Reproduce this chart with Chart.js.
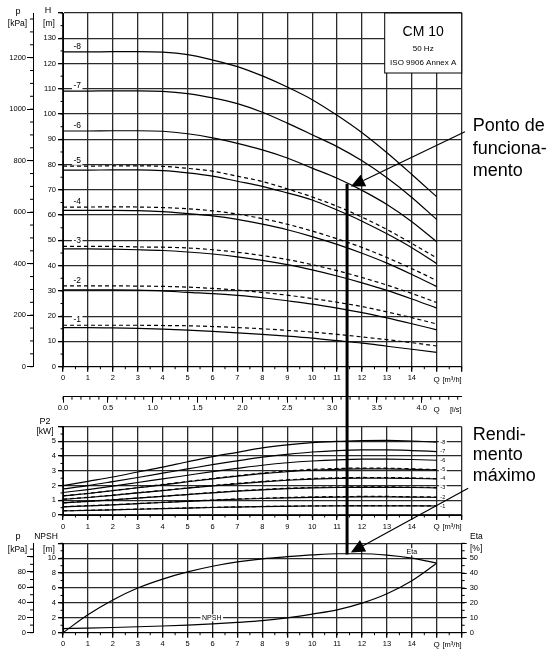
<!DOCTYPE html>
<html>
<head>
<meta charset="utf-8">
<script src="https://cdn.jsdelivr.net/npm/chart.js@4.4.0/dist/chart.umd.min.js"></script>
<style>
html, body { margin: 0; padding: 0; background: #fff; }
#wrap { position: relative; width: 552px; height: 652px; }
#wrap canvas { position: absolute; left: 0; top: 0; }
</style>
</head>
<body>
<div id="wrap">
  <canvas id="head" width="552" height="652"></canvas>
  <canvas id="power" width="552" height="652"></canvas>
  <canvas id="npsh" width="552" height="652"></canvas>
</div>
<script>
// flow Q [m3/h]
const flow = [0, 1, 2, 3, 4, 5, 6, 7, 8, 9, 10, 11, 12, 13, 14, 15];

// head H [m] per number of stages (d = dashed curve)
const head8  = [124.6, 124.6, 124.7, 124.7, 124.5, 123.5, 121.4, 118.8, 115.1, 110.7, 105.7, 99.5, 92.6, 84.7, 76.1, 67.2];
const head7  = [109.1, 109.1, 109.2, 109.2, 109.0, 108.1, 106.4, 104.1, 100.7, 96.4, 91.8, 87.1, 81.5, 74.8, 67.0, 58.2];
const head6  = [93.3, 93.3, 93.4, 93.4, 93.2, 92.2, 90.6, 88.4, 85.8, 82.6, 78.6, 74.6, 69.8, 64.2, 57.4, 49.4];
const head5d = [79.4, 79.4, 79.5, 79.5, 79.3, 78.5, 77.4, 75.4, 73.3, 70.4, 67.2, 63.5, 59.2, 54.3, 48.8, 43.0];
const head5  = [77.8, 77.8, 77.9, 77.9, 77.6, 76.7, 75.4, 73.4, 71.4, 68.8, 66.0, 62.0, 57.6, 52.6, 47.1, 40.8];
const head4d = [63.2, 63.2, 63.3, 63.2, 63.0, 62.5, 61.7, 60.4, 58.6, 56.4, 53.7, 50.6, 47.2, 43.2, 38.8, 34.1];
const head4  = [61.9, 61.9, 61.9, 61.8, 61.4, 60.6, 59.7, 58.3, 56.4, 54.2, 51.5, 48.4, 44.9, 41.0, 36.5, 31.7];
const head3d = [47.6, 47.6, 47.6, 47.4, 47.3, 47.0, 46.3, 45.3, 44.0, 42.4, 40.4, 38.0, 35.3, 32.3, 29.0, 25.4];
const head3  = [46.6, 46.6, 46.5, 46.3, 46.0, 45.4, 44.6, 43.5, 42.1, 40.4, 38.3, 35.9, 33.2, 30.2, 26.8, 23.2];
const head2d = [32.0, 32.0, 32.0, 31.9, 31.8, 31.5, 31.0, 30.3, 29.4, 28.3, 27.0, 25.5, 23.8, 21.7, 19.4, 16.9];
const head2  = [30.4, 30.4, 30.4, 30.3, 30.0, 29.4, 28.9, 28.2, 27.3, 26.1, 24.8, 23.2, 21.4, 19.3, 17.0, 14.6];
const head1d = [16.4, 16.4, 16.4, 16.4, 16.3, 16.2, 15.9, 15.5, 15.0, 14.4, 13.7, 12.8, 11.8, 10.7, 9.5, 8.2];
const head1  = [15.5, 15.5, 15.4, 15.2, 14.9, 14.5, 14.0, 13.4, 12.8, 12.1, 11.3, 10.3, 9.3, 8.1, 6.9, 5.7];

// shaft power P2 [kW]
const power8  = [2.00, 2.29, 2.58, 2.92, 3.25, 3.62, 3.97, 4.26, 4.56, 4.77, 4.92, 5.00, 5.06, 5.07, 5.03, 4.95];
const power7  = [1.77, 2.00, 2.27, 2.55, 2.84, 3.13, 3.42, 3.68, 3.93, 4.12, 4.28, 4.38, 4.42, 4.42, 4.38, 4.31];
const power6  = [1.53, 1.73, 1.96, 2.21, 2.45, 2.70, 2.95, 3.17, 3.38, 3.55, 3.67, 3.75, 3.79, 3.79, 3.77, 3.72];
const power5d = [1.30, 1.47, 1.66, 1.86, 2.07, 2.28, 2.48, 2.67, 2.85, 2.99, 3.10, 3.16, 3.19, 3.18, 3.14, 3.08];
const power5  = [1.29, 1.46, 1.65, 1.85, 2.05, 2.26, 2.46, 2.64, 2.81, 2.94, 3.04, 3.10, 3.13, 3.13, 3.10, 3.06];
const power4d = [1.07, 1.20, 1.35, 1.51, 1.67, 1.84, 2.00, 2.15, 2.28, 2.39, 2.48, 2.53, 2.55, 2.54, 2.52, 2.47];
const power4  = [1.06, 1.19, 1.34, 1.50, 1.66, 1.82, 1.98, 2.12, 2.25, 2.36, 2.44, 2.49, 2.51, 2.51, 2.49, 2.45];
const power3d = [0.83, 0.93, 1.04, 1.16, 1.28, 1.40, 1.53, 1.64, 1.74, 1.82, 1.87, 1.90, 1.91, 1.91, 1.89, 1.86];
const power3  = [0.82, 0.92, 1.03, 1.15, 1.27, 1.39, 1.51, 1.62, 1.71, 1.79, 1.84, 1.87, 1.88, 1.88, 1.87, 1.84];
const power2d = [0.56, 0.63, 0.70, 0.78, 0.86, 0.94, 1.02, 1.09, 1.14, 1.19, 1.23, 1.25, 1.26, 1.26, 1.24, 1.22];
const power2  = [0.55, 0.62, 0.69, 0.77, 0.85, 0.93, 1.00, 1.07, 1.12, 1.17, 1.20, 1.22, 1.23, 1.23, 1.22, 1.20];
const power1d = [0.29, 0.32, 0.36, 0.40, 0.44, 0.48, 0.52, 0.55, 0.58, 0.60, 0.62, 0.63, 0.64, 0.64, 0.63, 0.62];
const power1  = [0.28, 0.31, 0.35, 0.39, 0.43, 0.47, 0.51, 0.54, 0.57, 0.59, 0.61, 0.62, 0.62, 0.62, 0.62, 0.61];

// efficiency [%] and NPSH [m]
const eta  = [0, 12, 22, 30, 36, 40.8, 44.6, 47.5, 49.6, 51.0, 52.2, 53.0, 53.0, 52.0, 50.0, 46.7];
const npsh = [0.55, 0.62, 0.70, 0.80, 0.90, 1.02, 1.18, 1.38, 1.62, 2.0, 2.5, 3.07, 3.97, 5.23, 6.98, 9.33];

// pressure tick values [kPa]
const kpaTicksHead = [0, 200, 400, 600, 800, 1000, 1200];
const kpaTicksNpsh = [0, 20, 40, 60, 80, 100];

// operating point and annotation anchors
const opQ = 11.4, opH = 72.4, opEta = 52.4;
const pointTail = {q: 16.13, h: 93.0}, pointTip = {q: 11.55, h: 71.3};
const maxTail = {q: 16.26, eta: 97}, maxTip = {q: 11.55, eta: 53.8};

const FONT = '"Liberation Sans", Arial, sans-serif';
const GRID = '#2a2a2a';
Chart.defaults.font.family = FONT;
Chart.defaults.font.size = 7.5;
Chart.defaults.color = '#000';
Chart.defaults.animation = false;

function pts(ys) {
    return flow.map((q, i) => ({x: q, y: ys[i]}));
}

function curve(ys, dashed, tag, axis) {
    return {
        data: pts(ys),
        tag: tag,
        yAxisID: axis || 'y',
        borderColor: '#000',
        borderWidth: 1.2,
        borderDash: dashed ? [4, 3] : [],
        pointRadius: 0,
        fill: false,
        cubicInterpolationMode: 'monotone'
    };
}

const fixW = w => s => { s.width = w; };
const fixH = h => s => { s.height = h; };

function qAxis(height) {
    return {
        type: 'linear', position: 'bottom', min: 0, max: 16,
        afterFit: fixH(height),
        border: {color: '#000'},
        grid: {color: GRID, lineWidth: 1.3, tickLength: 5, tickColor: '#000'},
        ticks: {stepSize: 1, autoSkip: false, maxRotation: 0, padding: 2,
            callback: v => v <= 14 ? String(v) : ''}
    };
}

function leftAxis(max, step, width, labelMax) {
    return {
        position: 'left', min: 0, max: max,
        afterFit: fixW(width),
        border: {color: '#000'},
        grid: {color: GRID, lineWidth: 1.3, tickLength: 5, tickColor: '#000'},
        ticks: {stepSize: step, autoSkip: false, padding: 2,
            callback: v => v <= labelMax ? String(v) : ''}
    };
}

function kpaAxis(max, values, labelMax) {
    return {
        position: 'left', weight: 1, min: 0, max: max,
        afterFit: fixW(33),
        afterBuildTicks: s => { s.ticks = values.map(v => ({value: v})); },
        border: {color: '#000'},
        grid: {drawOnChartArea: false, tickLength: 6, color: '#000'},
        ticks: {autoSkip: false, padding: 1,
            callback: v => v <= labelMax ? String(v) : ''}
    };
}

const minorTicks = {
    id: 'minorTicks',
    afterDraw(chart, args, opts) {
        const ctx = chart.ctx;
        ctx.save();
        ctx.strokeStyle = '#000';
        ctx.lineWidth = 1;
        (opts.list || []).forEach(m => {
            const s = chart.scales[m.id];
            const n = Math.floor((s.max - s.min) / m.step + 1e-6);
            for (let i = 0; i <= n; i++) {
                const p = s.getPixelForValue(s.min + i * m.step);
                ctx.beginPath();
                if (s.isHorizontal()) {
                    ctx.moveTo(p, s.top); ctx.lineTo(p, s.top + m.len);
                } else if (s.position === 'right') {
                    ctx.moveTo(s.left, p); ctx.lineTo(s.left + m.len, p);
                } else {
                    ctx.moveTo(s.right, p); ctx.lineTo(s.right - m.len, p);
                }
                ctx.stroke();
            }
        });
        ctx.restore();
    }
};

function text(ctx, str, x, y, size, align) {
    ctx.font = size + 'px ' + FONT;
    ctx.textAlign = align || 'center';
    ctx.textBaseline = 'middle';
    ctx.fillStyle = '#000';
    ctx.fillText(str, x, y);
}

function boxedText(ctx, str, x, y, size) {
    ctx.font = size + 'px ' + FONT;
    const w = ctx.measureText(str).width + 3;
    ctx.fillStyle = '#fff';
    ctx.fillRect(x - w / 2, y - size / 2, w, size);
    text(ctx, str, x, y, size);
}

function flowTitle(ctx, a, y, unit) {
    text(ctx, 'Q', a.right - 25, y, 8, 'center');
    text(ctx, unit, a.right, y, 7.5, 'right');
}

const headDecor = {
    id: 'headDecor',
    afterDraw(chart) {
        const {ctx, chartArea: a, scales} = chart;
        ctx.save();
        chart.data.datasets.forEach(ds => {
            if (!ds.tag) return;
            boxedText(ctx, ds.tag, scales.x.getPixelForValue(0.57),
                scales.y.getPixelForValue(ds.data[0].y) - 5.5, 8.5);
        });
        // type box
        ctx.fillStyle = '#fff';
        ctx.strokeStyle = '#000';
        ctx.lineWidth = 1;
        ctx.fillRect(a.right - 77, a.top, 77, 60);
        ctx.strokeRect(a.right - 77, a.top, 77, 60);
        text(ctx, 'CM 10', a.right - 38.5, a.top + 19, 14);
        text(ctx, '50 Hz', a.right - 38.5, a.top + 36, 8);
        text(ctx, 'ISO 9906 Annex A', a.right - 38.5, a.top + 50, 8);
        // axis titles
        text(ctx, 'p', 18, a.top - 1.5, 9);
        text(ctx, '[kPa]', 17.5, a.top + 11, 8.5);
        text(ctx, 'H', 48, a.top - 2, 9);
        text(ctx, '[m]', 49, a.top + 11, 8.5);
        flowTitle(ctx, a, scales.x.top + 13, '[m\u00b3/h]');
        flowTitle(ctx, a, scales.xLs.top + 13, '[l/s]');
        ctx.restore();
    }
};

const powerDecor = {
    id: 'powerDecor',
    afterDraw(chart) {
        const {ctx, chartArea: a, scales} = chart;
        ctx.save();
        chart.data.datasets.forEach(ds => {
            if (!ds.tag) return;
            boxedText(ctx, ds.tag, scales.x.getPixelForValue(15) + 6,
                scales.y.getPixelForValue(ds.data[ds.data.length - 1].y), 5.5);
        });
        text(ctx, 'P2', 45, a.top - 5.5, 9);
        text(ctx, '[kW]', 45, a.top + 4.5, 8.5);
        flowTitle(ctx, a, scales.x.top + 12, '[m\u00b3/h]');
        ctx.restore();
    }
};

function arrow(ctx, x1, y1, x2, y2) {
    const ang = Math.atan2(y2 - y1, x2 - x1);
    const len = 14, half = 6.5;
    const bx = x2 - len * Math.cos(ang), by = y2 - len * Math.sin(ang);
    ctx.lineWidth = 1.2;
    ctx.beginPath();
    ctx.moveTo(x1, y1);
    ctx.lineTo(bx, by);
    ctx.stroke();
    ctx.beginPath();
    ctx.moveTo(x2, y2);
    ctx.lineTo(bx + half * Math.sin(ang), by - half * Math.cos(ang));
    ctx.lineTo(bx - half * Math.sin(ang), by + half * Math.cos(ang));
    ctx.closePath();
    ctx.fill();
}

const npshDecor = {
    id: 'npshDecor',
    afterDraw(chart) {
        const {ctx, chartArea: a, scales} = chart;
        const x = scales.x;
        ctx.save();
        boxedText(ctx, 'NPSH', x.getPixelForValue(5.97), scales.y.getPixelForValue(2), 7);
        boxedText(ctx, 'Eta', x.getPixelForValue(14), scales.yEta.getPixelForValue(50) - 6.5, 7);
        text(ctx, 'p', 18, a.top - 7, 9);
        text(ctx, '[kPa]', 17.5, a.top + 6.5, 8.5);
        text(ctx, 'NPSH', 46, a.top - 7, 8.5);
        text(ctx, '[m]', 49, a.top + 6.5, 8.5);
        text(ctx, 'Eta', 470, a.top - 7, 8.5, 'left');
        text(ctx, '[%]', 470, a.top + 5, 8.5, 'left');
        flowTitle(ctx, a, x.top + 12, '[m\u00b3/h]');

        // operating point line through all three panels
        const hx = headChart.scales.x, hy = headChart.scales.y;
        ctx.strokeStyle = '#000';
        ctx.fillStyle = '#000';
        ctx.lineWidth = 3;
        ctx.beginPath();
        ctx.moveTo(x.getPixelForValue(opQ), hy.getPixelForValue(opH));
        ctx.lineTo(x.getPixelForValue(opQ), scales.yEta.getPixelForValue(opEta));
        ctx.stroke();

        const t1x = hx.getPixelForValue(pointTail.q), t1y = hy.getPixelForValue(pointTail.h);
        arrow(ctx, t1x, t1y, hx.getPixelForValue(pointTip.q), hy.getPixelForValue(pointTip.h));
        const t2x = x.getPixelForValue(maxTail.q), t2y = scales.yEta.getPixelForValue(maxTail.eta);
        arrow(ctx, t2x, t2y, x.getPixelForValue(maxTip.q), scales.yEta.getPixelForValue(maxTip.eta));

        const tx = a.right + 11;
        text(ctx, 'Ponto de', tx, t1y - 6, 18, 'left');
        text(ctx, 'funciona-', tx, t1y + 17, 18, 'left');
        text(ctx, 'mento', tx, t1y + 39, 18, 'left');
        text(ctx, 'Rendi-', tx, t2y - 53, 18, 'left');
        text(ctx, 'mento', tx, t2y - 33, 18, 'left');
        text(ctx, 'm\u00e1ximo', tx, t2y - 12, 18, 'left');
        ctx.restore();
    }
};

const noLegend = {legend: {display: false}, tooltip: {enabled: false}};

const headChart = new Chart(document.getElementById('head'), {
    type: 'line',
    data: {
        datasets: [
            curve(head8, false, '-8'), curve(head7, false, '-7'), curve(head6, false, '-6'),
            curve(head5d, true, '-5'), curve(head5, false),
            curve(head4d, true, '-4'), curve(head4, false),
            curve(head3d, true, '-3'), curve(head3, false),
            curve(head2d, true, '-2'), curve(head2, false),
            curve(head1d, true, '-1'), curve(head1, false)
        ]
    },
    options: {
        responsive: false,
        layout: {padding: {top: 13, right: 90.3, bottom: 232, left: 0}},
        plugins: Object.assign({
            minorTicks: {list: [
                {id: 'x', step: 0.5, len: 2.5},
                {id: 'xLs', step: 0.1, len: 3},
                {id: 'y', step: 5, len: 2.5},
                {id: 'yKpa', step: 50, len: 3}
            ]}
        }, noLegend),
        scales: {
            x: qAxis(30),
            xLs: {
                type: 'linear', position: 'bottom', weight: 1, min: 0, max: 16 / 3.6,
                afterFit: fixH(23.3),
                border: {color: '#000'},
                grid: {drawOnChartArea: false, tickLength: 6, color: '#000'},
                ticks: {stepSize: 0.5, includeBounds: false, autoSkip: false, maxRotation: 0, padding: 1,
                    callback: v => v.toFixed(1)}
            },
            y: leftAxis(140, 10, 30, 130),
            yKpa: kpaAxis(140 * 9.81, kpaTicksHead, 1200)
        }
    },
    plugins: [minorTicks, headDecor]
});

const powerChart = new Chart(document.getElementById('power'), {
    type: 'line',
    data: {
        datasets: [
            curve(power8, false, '-8'), curve(power7, false, '-7'), curve(power6, false, '-6'),
            curve(power5d, true), curve(power5, false, '-5'),
            curve(power4d, true), curve(power4, false, '-4'),
            curve(power3d, true), curve(power3, false, '-3'),
            curve(power2d, true), curve(power2, false, '-2'),
            curve(power1d, true), curve(power1, false, '-1')
        ]
    },
    options: {
        responsive: false,
        layout: {padding: {top: 426.7, right: 90.3, bottom: 112, left: 0}},
        plugins: Object.assign({
            minorTicks: {list: [
                {id: 'x', step: 0.5, len: 2.5},
                {id: 'y', step: 0.5, len: 2.5}
            ]}
        }, noLegend),
        scales: {
            x: qAxis(25),
            y: leftAxis(6, 1, 63, 5)
        }
    },
    plugins: [minorTicks, powerDecor]
});

const npshChart = new Chart(document.getElementById('npsh'), {
    type: 'line',
    data: {
        datasets: [
            curve(eta, false, null, 'yEta'),
            curve(npsh, false, null, 'y')
        ]
    },
    options: {
        responsive: false,
        layout: {padding: {top: 543.3, right: 0, bottom: 0, left: 0}},
        plugins: Object.assign({
            minorTicks: {list: [
                {id: 'x', step: 0.5, len: 2.5},
                {id: 'y', step: 1, len: 2.5},
                {id: 'yKpa', step: 10, len: 3},
                {id: 'yEta', step: 5, len: 3}
            ]}
        }, noLegend),
        scales: {
            x: qAxis(19.3),
            y: leftAxis(12, 2, 30, 10),
            yKpa: kpaAxis(12 * 9.81, kpaTicksNpsh, 80),
            yEta: {
                position: 'right', min: 0, max: 60,
                afterFit: fixW(90.3),
                border: {color: '#000'},
                grid: {drawOnChartArea: false, tickLength: 5, color: '#000'},
                ticks: {stepSize: 10, autoSkip: false, padding: 3,
                    callback: v => v < 60 ? String(v) : ''}
            }
        }
    },
    plugins: [minorTicks, npshDecor]
});
</script>
</body>
</html>
